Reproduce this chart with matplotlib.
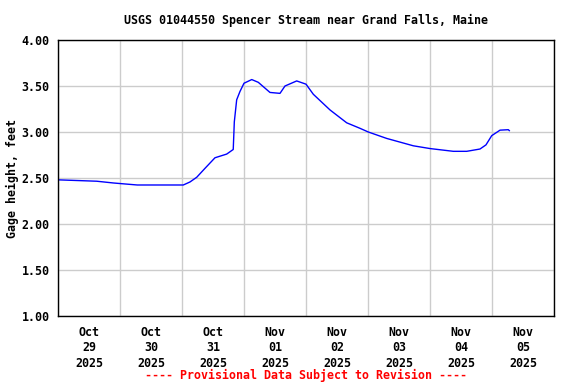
import matplotlib
matplotlib.use("Agg")
import matplotlib.pyplot as plt
import matplotlib.dates as mdates
import pandas as pd

times = ["2025-10-29 00:00", "2025-10-29 15:00", "2025-10-29 21:24", "2025-10-30 02:00",
         "2025-10-30 06:42", "2025-10-31 00:30", "2025-10-31 03:06", "2025-10-31 05:42",
         "2025-10-31 08:54", "2025-10-31 12:46", "2025-10-31 17:18", "2025-10-31 19:50",
         "2025-10-31 20:15", "2025-10-31 21:10", "2025-10-31 22:26", "2025-11-01 00:00",
         "2025-11-01 03:00", "2025-11-01 05:32", "2025-11-01 10:03", "2025-11-01 13:56",
         "2025-11-01 15:52", "2025-11-01 20:24", "2025-11-02 00:00", "2025-11-02 02:50",
         "2025-11-02 09:17", "2025-11-02 15:45", "2025-11-02 20:54", "2025-11-03 00:07",
         "2025-11-03 07:15", "2025-11-03 17:33", "2025-11-04 00:00", "2025-11-04 09:02",
         "2025-11-04 14:13", "2025-11-04 19:21", "2025-11-04 21:40", "2025-11-04 23:53",
         "2025-11-05 03:06", "2025-11-05 06:19", "2025-11-05 06:42"]
gage_ft = [2.48, 2.465, 2.446, 2.435, 2.424, 2.424, 2.457, 2.508,
           2.605, 2.72, 2.76, 2.81, 3.11, 3.35, 3.44, 3.53,
           3.57, 3.54, 3.43, 3.42, 3.50, 3.555, 3.52, 3.41,
           3.24, 3.10, 3.04, 3.00, 2.93, 2.85, 2.82, 2.79,
           2.79, 2.815, 2.86, 2.96, 3.02, 3.025, 3.015]
y_ticks = [1.0, 1.5, 2.0, 2.5, 3.0, 3.5, 4.0]
title = "USGS 01044550 Spencer Stream near Grand Falls, Maine"
ylabel = "Gage height, feet"
footer = "---- Provisional Data Subject to Revision ----"

t = pd.to_datetime(times)
mono = "DejaVu Sans Mono"

fig = plt.figure(figsize=(5.76, 3.84), dpi=100)
ax = fig.add_axes([58/576, 1-316/384, 496/576, 276/384])
ax.plot(t, gage_ft, color="#0000ff", lw=1.0)

ax.set_xlim(pd.Timestamp("2025-10-29"), pd.Timestamp("2025-11-06"))
ax.set_ylim(1.0, 4.0)
ax.set_yticks(y_ticks)
ax.set_yticklabels([f"{v:.2f}" for v in y_ticks], fontfamily=mono, fontweight="bold", fontsize=8.4)

ax.xaxis.set_major_locator(mdates.DayLocator())
ax.xaxis.set_major_formatter(plt.NullFormatter())
ax.xaxis.set_minor_locator(mdates.HourLocator(byhour=[12]))
ax.xaxis.set_minor_formatter(mdates.DateFormatter("%b\n%d\n%Y"))
for lab in ax.xaxis.get_minorticklabels():
    lab.set_fontfamily(mono)
    lab.set_fontweight("bold")
    lab.set_fontsize(8.4)
    lab.set_linespacing(1.25)
ax.tick_params(axis="x", which="both", length=0, pad=7)
ax.tick_params(axis="y", length=0, pad=6)

ax.grid(True, which="major", color="#cccccc", lw=1.0)
ax.set_axisbelow(True)
for s in ax.spines.values():
    s.set_color("black")
    s.set_linewidth(1.0)

ax.set_ylabel(ylabel, fontfamily=mono, fontweight="bold", fontsize=8.4, va="center")
ax.yaxis.set_label_coords((12 - 58) / 496, 0.5)
fig.text(306/576, 1-20/384, title, ha="center", va="center", fontfamily=mono,
         fontweight="bold", fontsize=8.4)
fig.text(306/576, 1-375/384, footer, ha="center", va="center", fontfamily=mono,
         fontweight="bold", fontsize=8.4, color="#ff0000")

fig.savefig("out.png", dpi=100)
